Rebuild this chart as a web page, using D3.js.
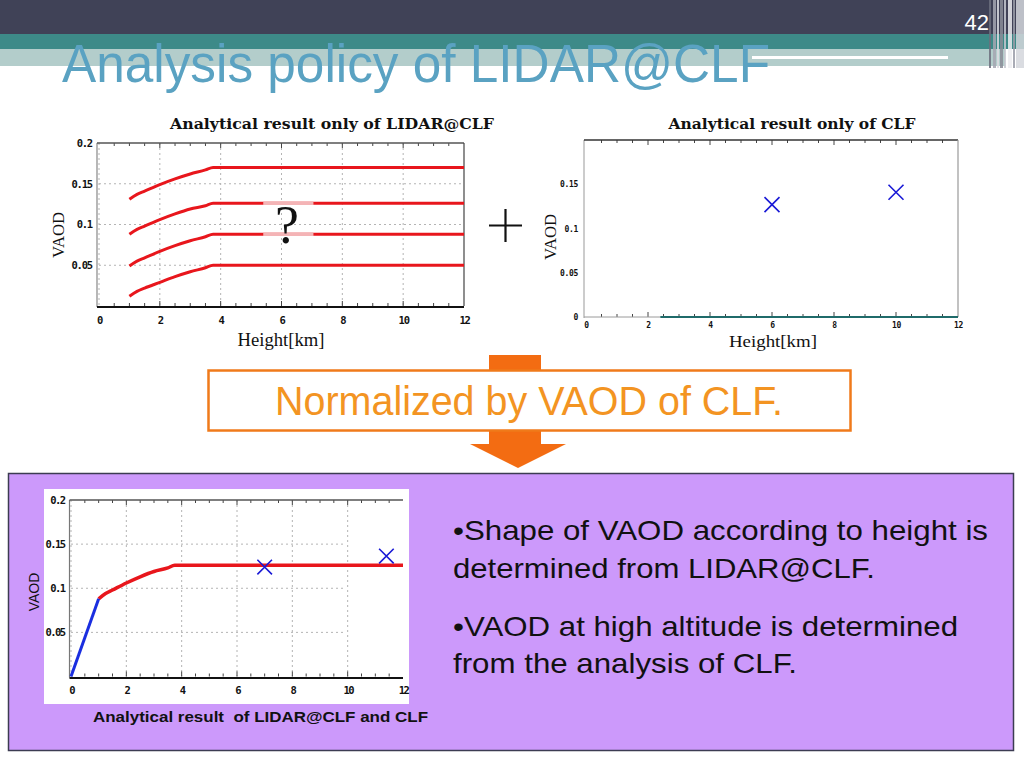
<!DOCTYPE html>
<html>
<head>
<meta charset="utf-8">
<script src="https://cdnjs.cloudflare.com/ajax/libs/d3/7.8.5/d3.min.js"></script>
<style>
  body { margin: 0; background: #ffffff; }
  svg { display: block; }
</style>
</head>
<body>
<script>
// ---- data ----
const heightKm   = [1, 1.25, 1.5, 2, 2.5, 3, 3.5, 3.75, 12];
const lidarTop   = [0.131, 0.137, 0.141, 0.149, 0.156, 0.162, 0.167, 0.170, 0.170];
const lidarMid1  = [0.088, 0.094, 0.098, 0.106, 0.113, 0.119, 0.123, 0.126, 0.126];
const lidarMid2  = [0.049, 0.055, 0.059, 0.067, 0.074, 0.080, 0.085, 0.088, 0.088];
const lidarLow   = [0.012, 0.018, 0.022, 0.029, 0.036, 0.042, 0.047, 0.050, 0.050];
const gapKm      = [5.4, 7.05];

const clfHeight  = [6, 10];
const clfVaod    = [0.127, 0.141];
const clfBaseKm  = [2.4, 12];

const lowHeight  = [0, 1];
const lowVaod    = [0, 0.088];
const combHeight = [7, 11.4];
const combVaod   = [0.124, 0.1365];

const xTicks     = [0, 2, 4, 6, 8, 10, 12];
const yTicksA    = [0.05, 0.1, 0.15, 0.2];
const yTicksB    = [0, 0.05, 0.1, 0.15];
const gridX      = [0, 2, 4, 6, 8, 10];
const gridY      = [0.05, 0.1, 0.15];
const minorX     = [0.5, 1, 1.5, 2, 2.5, 3, 3.5, 4, 4.5, 5, 5.5, 6, 6.5, 7, 7.5, 8, 8.5, 9, 9.5, 10, 10.5, 11, 11.5];

let svg = d3.select("body").append("svg").attr("width", 1024).attr("height", 768);

// ---- slide header ----
svg.append("rect").attr("x", 0).attr("y", 0).attr("width", 1024).attr("height", 768).attr("fill", "#ffffff");
svg.append("rect").attr("x", 0).attr("y", 0).attr("width", 1024).attr("height", 34).attr("fill", "#404257");
svg.append("rect").attr("x", 0).attr("y", 34).attr("width", 1024).attr("height", 15).attr("fill", "#3d8a88");
svg.append("rect").attr("x", 0).attr("y", 49).attr("width", 1005).attr("height", 17).attr("fill", "#b3cdcb");
svg.append("rect").attr("x", 752).attr("y", 56).attr("width", 196).attr("height", 3).attr("fill", "#ffffff");
let stripes = [[989, 2, "#6c6e7e"], [993, 3, "#a4a6b2"], [997, 2, "#dcdce2"], [1000, 3, "#8a8c98"],
               [1004, 2, "#c6c8d0"], [1008, 4, "#ececf0"], [1013, 2, "#9a9ca8"], [1016, 8, "#d4d6dc"]];
svg.selectAll(null).data(stripes).join("rect")
    .attr("x", d => d[0]).attr("y", 0).attr("width", d => d[1]).attr("height", 68)
    .attr("fill", d => d[2]).attr("opacity", 0.85);

svg.append("text").text("42")
    .attr("x", 989).attr("y", 30).attr("text-anchor", "end")
    .style("fill", "#ffffff").style("font-size", "22px").style("font-family", "Liberation Sans, Arial");

svg.append("text").text("Analysis policy of LIDAR@CLF")
    .attr("x", 62).attr("y", 82)
    .attr("textLength", 708).attr("lengthAdjust", "spacingAndGlyphs")
    .style("fill", "#5aa2c2").style("font-size", "54px").style("font-family", "Liberation Sans, Arial");

// ---- helpers ----
function plotFrame(g, x, y, o) {
    let [xl, xr] = x.range();
    let [yb, yt] = y.range();
    if (o.grid) {
        g.selectAll(null).data(gridX).join("line")
            .attr("x1", d => x(d)).attr("x2", d => x(d)).attr("y1", yt).attr("y2", yb)
            .attr("stroke", "#b4b4b4").attr("stroke-width", 1).attr("stroke-dasharray", "2,3");
        g.selectAll(null).data(gridY).join("line")
            .attr("x1", xl).attr("x2", o.gridRight || xr).attr("y1", d => y(d)).attr("y2", d => y(d))
            .attr("stroke", "#b4b4b4").attr("stroke-width", 1).attr("stroke-dasharray", "2,3");
    }
    // minor ticks top & bottom
    g.selectAll(null).data(minorX).join("line")
        .attr("x1", d => x(d)).attr("x2", d => x(d))
        .attr("y1", yt).attr("y2", d => yt + (d % 2 === 0 ? 5 : 3))
        .attr("stroke", "#444").attr("stroke-width", 1);
    g.selectAll(null).data(minorX).join("line")
        .attr("x1", d => x(d)).attr("x2", d => x(d))
        .attr("y1", yb).attr("y2", d => yb - (d % 2 === 0 ? 5 : 3))
        .attr("stroke", "#444").attr("stroke-width", 1);
    // borders
    g.append("line").attr("x1", xl - o.leftOff).attr("x2", xl - o.leftOff).attr("y1", yt).attr("y2", yb + 1)
        .attr("stroke", o.leftColor).attr("stroke-width", 1.2);
    g.append("line").attr("x1", xl - o.leftOff).attr("x2", xr).attr("y1", yt).attr("y2", yt)
        .attr("stroke", o.topColor).attr("stroke-width", 1.5);
    if (o.right) {
        g.append("line").attr("x1", xr).attr("x2", xr).attr("y1", yt).attr("y2", yb)
            .attr("stroke", o.right).attr("stroke-width", 1.2);
    }
    g.append("line").attr("x1", xl - o.leftOff).attr("x2", xr).attr("y1", yb + o.botOff).attr("y2", yb + o.botOff)
        .attr("stroke", o.botColor).attr("stroke-width", o.botWidth);

    // tick labels through d3 axes
    let xAxis = d3.axisBottom(x).tickValues(xTicks).tickSize(0).tickPadding(o.xPad).tickFormat(d => String(d));
    let xg = g.append("g").attr("transform", "translate(0," + (yb + o.botOff) + ")").call(xAxis);
    let yAxis = d3.axisLeft(y).tickValues(o.yTicks).tickSize(0).tickPadding(o.yPad).tickFormat(d => String(d));
    let yg = g.append("g").attr("transform", "translate(" + (xl - o.leftOff) + ",0)").call(yAxis);
    [xg, yg].forEach(a => {
        a.select(".domain").remove();
        a.selectAll("text")
            .style("fill", "#111")
            .style("font-size", o.fs + "px")
            .style("font-weight", "bold")
            .style("letter-spacing", o.ls + "px")
            .style("font-family", "DejaVu Sans Mono, monospace");
    });
}

function crossPath(x, y, hx, hy, s) {
    return hx.map((h, i) => {
        let cx = x(h), cy = y(hy[i]);
        return "M" + (cx - s) + "," + (cy - s) + "L" + (cx + s) + "," + (cy + s) +
               "M" + (cx - s) + "," + (cy + s) + "L" + (cx + s) + "," + (cy - s);
    }).join("");
}

// ---- chart 1: LIDAR@CLF only ----
let x1 = d3.scaleLinear().domain([0, 12]).range([99, 464]);
let y1 = d3.scaleLinear().domain([0, 0.2]).range([306, 143]);
let g1 = svg.append("g");
plotFrame(g1, x1, y1, {
    grid: true, leftOff: 2, leftColor: "#888", topColor: "#555", right: "#444",
    botColor: "#111", botWidth: 2.2, botOff: 1,
    yTicks: yTicksA, xPad: 10, yPad: 5, fs: 10.5, ls: -1.2
});
let line1 = d3.line().x((d, i) => x1(heightKm[i])).y(d => y1(d)).curve(d3.curveMonotoneX);
[lidarTop, lidarMid1, lidarMid2, lidarLow].forEach(s => {
    g1.append("path").attr("d", line1(s))
        .attr("fill", "none").attr("stroke", "#e8161c").attr("stroke-width", 3);
});
// faded gap where the answer is unknown
[lidarMid1, lidarMid2].forEach(s => {
    let v = s[s.length - 1];
    g1.append("line")
        .attr("x1", x1(gapKm[0])).attr("x2", x1(gapKm[1]))
        .attr("y1", y1(v)).attr("y2", y1(v))
        .attr("stroke", "#f4b4b6").attr("stroke-width", 3.5);
});
g1.append("text").text("?")
    .attr("x", 287).attr("y", 243).attr("text-anchor", "middle")
    .style("fill", "#111").style("font-size", "54px").style("font-family", "Liberation Serif, Times New Roman");

svg.append("text").text("Analytical result only of LIDAR@CLF")
    .attr("x", 332).attr("y", 129).attr("text-anchor", "middle")
    .attr("textLength", 324).attr("lengthAdjust", "spacingAndGlyphs")
    .style("fill", "#111").style("font-size", "15.5px").style("font-weight", "bold")
    .style("font-family", "DejaVu Serif, serif");
svg.append("text").text("VAOD")
    .attr("transform", "translate(64,235) rotate(-90)").attr("text-anchor", "middle")
    .attr("textLength", 46).attr("lengthAdjust", "spacingAndGlyphs")
    .style("fill", "#111").style("font-size", "17px").style("font-family", "Liberation Serif, serif");
svg.append("text").text("Height[km]")
    .attr("x", 281).attr("y", 346).attr("text-anchor", "middle")
    .attr("textLength", 87).attr("lengthAdjust", "spacingAndGlyphs")
    .style("fill", "#111").style("font-size", "18px").style("font-family", "Liberation Serif, serif");

// ---- plus sign ----
svg.append("path").attr("d", "M489,225.5L522,225.5M505.5,209L505.5,242")
    .attr("stroke", "#111").attr("stroke-width", 2.2);

// ---- chart 2: CLF only ----
let x2 = d3.scaleLinear().domain([0, 12]).range([586, 958]);
let y2 = d3.scaleLinear().domain([0, 0.2]).range([317, 140]);
let g2 = svg.append("g");
plotFrame(g2, x2, y2, {
    grid: false, leftOff: 2, leftColor: "#aaa", topColor: "#333", right: "#999",
    botColor: "#9a9a9a", botWidth: 1, botOff: 0,
    yTicks: yTicksB, xPad: 5.5, yPad: 6, fs: 8, ls: -0.3
});
g2.append("line")
    .attr("x1", x2(clfBaseKm[0])).attr("x2", x2(clfBaseKm[1]))
    .attr("y1", y2(0)).attr("y2", y2(0))
    .attr("stroke", "#1f6b6a").attr("stroke-width", 2);
g2.append("path").attr("d", crossPath(x2, y2, clfHeight, clfVaod, 7.5))
    .attr("fill", "none").attr("stroke", "#1a1ad6").attr("stroke-width", 1.6);

svg.append("text").text("Analytical result only of CLF")
    .attr("x", 792).attr("y", 129).attr("text-anchor", "middle")
    .attr("textLength", 247).attr("lengthAdjust", "spacingAndGlyphs")
    .style("fill", "#111").style("font-size", "15.5px").style("font-weight", "bold")
    .style("font-family", "DejaVu Serif, serif");
svg.append("text").text("VAOD")
    .attr("transform", "translate(556,237) rotate(-90)").attr("text-anchor", "middle")
    .attr("textLength", 46).attr("lengthAdjust", "spacingAndGlyphs")
    .style("fill", "#111").style("font-size", "17px").style("font-family", "Liberation Serif, serif");
svg.append("text").text("Height[km]")
    .attr("x", 773).attr("y", 347).attr("text-anchor", "middle")
    .attr("textLength", 88).attr("lengthAdjust", "spacingAndGlyphs")
    .style("fill", "#111").style("font-size", "17.5px").style("font-family", "Liberation Serif, serif");

// ---- orange arrow + box ----
svg.append("path")
    .attr("d", "M489,355L541,355L541,444L566,444L518,468L470,444L489,444Z")
    .attr("fill", "#f36c12");
svg.append("rect").attr("x", 208.5).attr("y", 370.5).attr("width", 642).attr("height", 60)
    .attr("fill", "#ffffff").attr("stroke", "#f07a1a").attr("stroke-width", 2.5);
svg.append("text").text("Normalized by VAOD of CLF.")
    .attr("x", 275).attr("y", 415)
    .attr("textLength", 508).attr("lengthAdjust", "spacingAndGlyphs")
    .style("fill", "#f39422").style("font-size", "41px").style("font-family", "Liberation Sans, Arial");

// ---- purple panel ----
svg.append("rect").attr("x", 8.5).attr("y", 473.5).attr("width", 1005).attr("height", 277)
    .attr("fill", "#cc99fb").attr("stroke", "#3c3c52").attr("stroke-width", 1.5);
svg.append("rect").attr("x", 44).attr("y", 489).attr("width", 365).attr("height", 215).attr("fill", "#ffffff");

// ---- chart 3: LIDAR@CLF and CLF ----
let x3 = d3.scaleLinear().domain([0, 12]).range([71, 403]);
let y3 = d3.scaleLinear().domain([0, 0.2]).range([676.5, 500]);
let g3 = svg.append("g");
plotFrame(g3, x3, y3, {
    grid: true, gridRight: 346, leftOff: 1.5, leftColor: "#777", topColor: "#555", right: null,
    botColor: "#111", botWidth: 2, botOff: 1.5,
    yTicks: yTicksA, xPad: 9, yPad: 5, fs: 10.5, ls: -1.6
});
let line3 = d3.line().x((d, i) => x3(heightKm[i])).y(d => y3(d)).curve(d3.curveMonotoneX);
g3.append("path").attr("d", line3(lidarMid1))
    .attr("fill", "none").attr("stroke", "#e8161c").attr("stroke-width", 3.5);
let lowLine = d3.line().x((d, i) => x3(lowHeight[i])).y(d => y3(d));
g3.append("path").attr("d", lowLine(lowVaod))
    .attr("fill", "none").attr("stroke", "#1a2ee0").attr("stroke-width", 3);
g3.append("path").attr("d", crossPath(x3, y3, combHeight, combVaod, 7.3))
    .attr("fill", "none").attr("stroke", "#1a1ad6").attr("stroke-width", 1.6);

svg.append("text").text("VAOD")
    .attr("transform", "translate(39,592) rotate(-90)").attr("text-anchor", "middle")
    .style("fill", "#111").style("font-size", "14px").style("font-family", "Liberation Sans, Arial");
svg.append("text").text("Analytical result  of LIDAR@CLF and CLF")
    .attr("x", 93).attr("y", 722).attr("xml:space", "preserve")
    .attr("textLength", 335).attr("lengthAdjust", "spacingAndGlyphs")
    .style("fill", "#111").style("font-size", "15px").style("font-weight", "bold")
    .style("font-family", "Liberation Sans, Arial");

// ---- bullet text ----
let bullets = [
    ["\u2022Shape of VAOD according to height is", 540, 535],
    ["determined from LIDAR@CLF.", 578, 422],
    ["\u2022VAOD at high altitude is determined", 636, 505],
    ["from the analysis of CLF.", 673, 344]
];
svg.selectAll(null).data(bullets).join("text")
    .text(d => d[0])
    .attr("x", 453).attr("y", d => d[1])
    .attr("textLength", d => d[2]).attr("lengthAdjust", "spacingAndGlyphs")
    .style("fill", "#111").style("font-size", "28px").style("font-family", "Liberation Sans, Arial");
</script>
</body>
</html>
